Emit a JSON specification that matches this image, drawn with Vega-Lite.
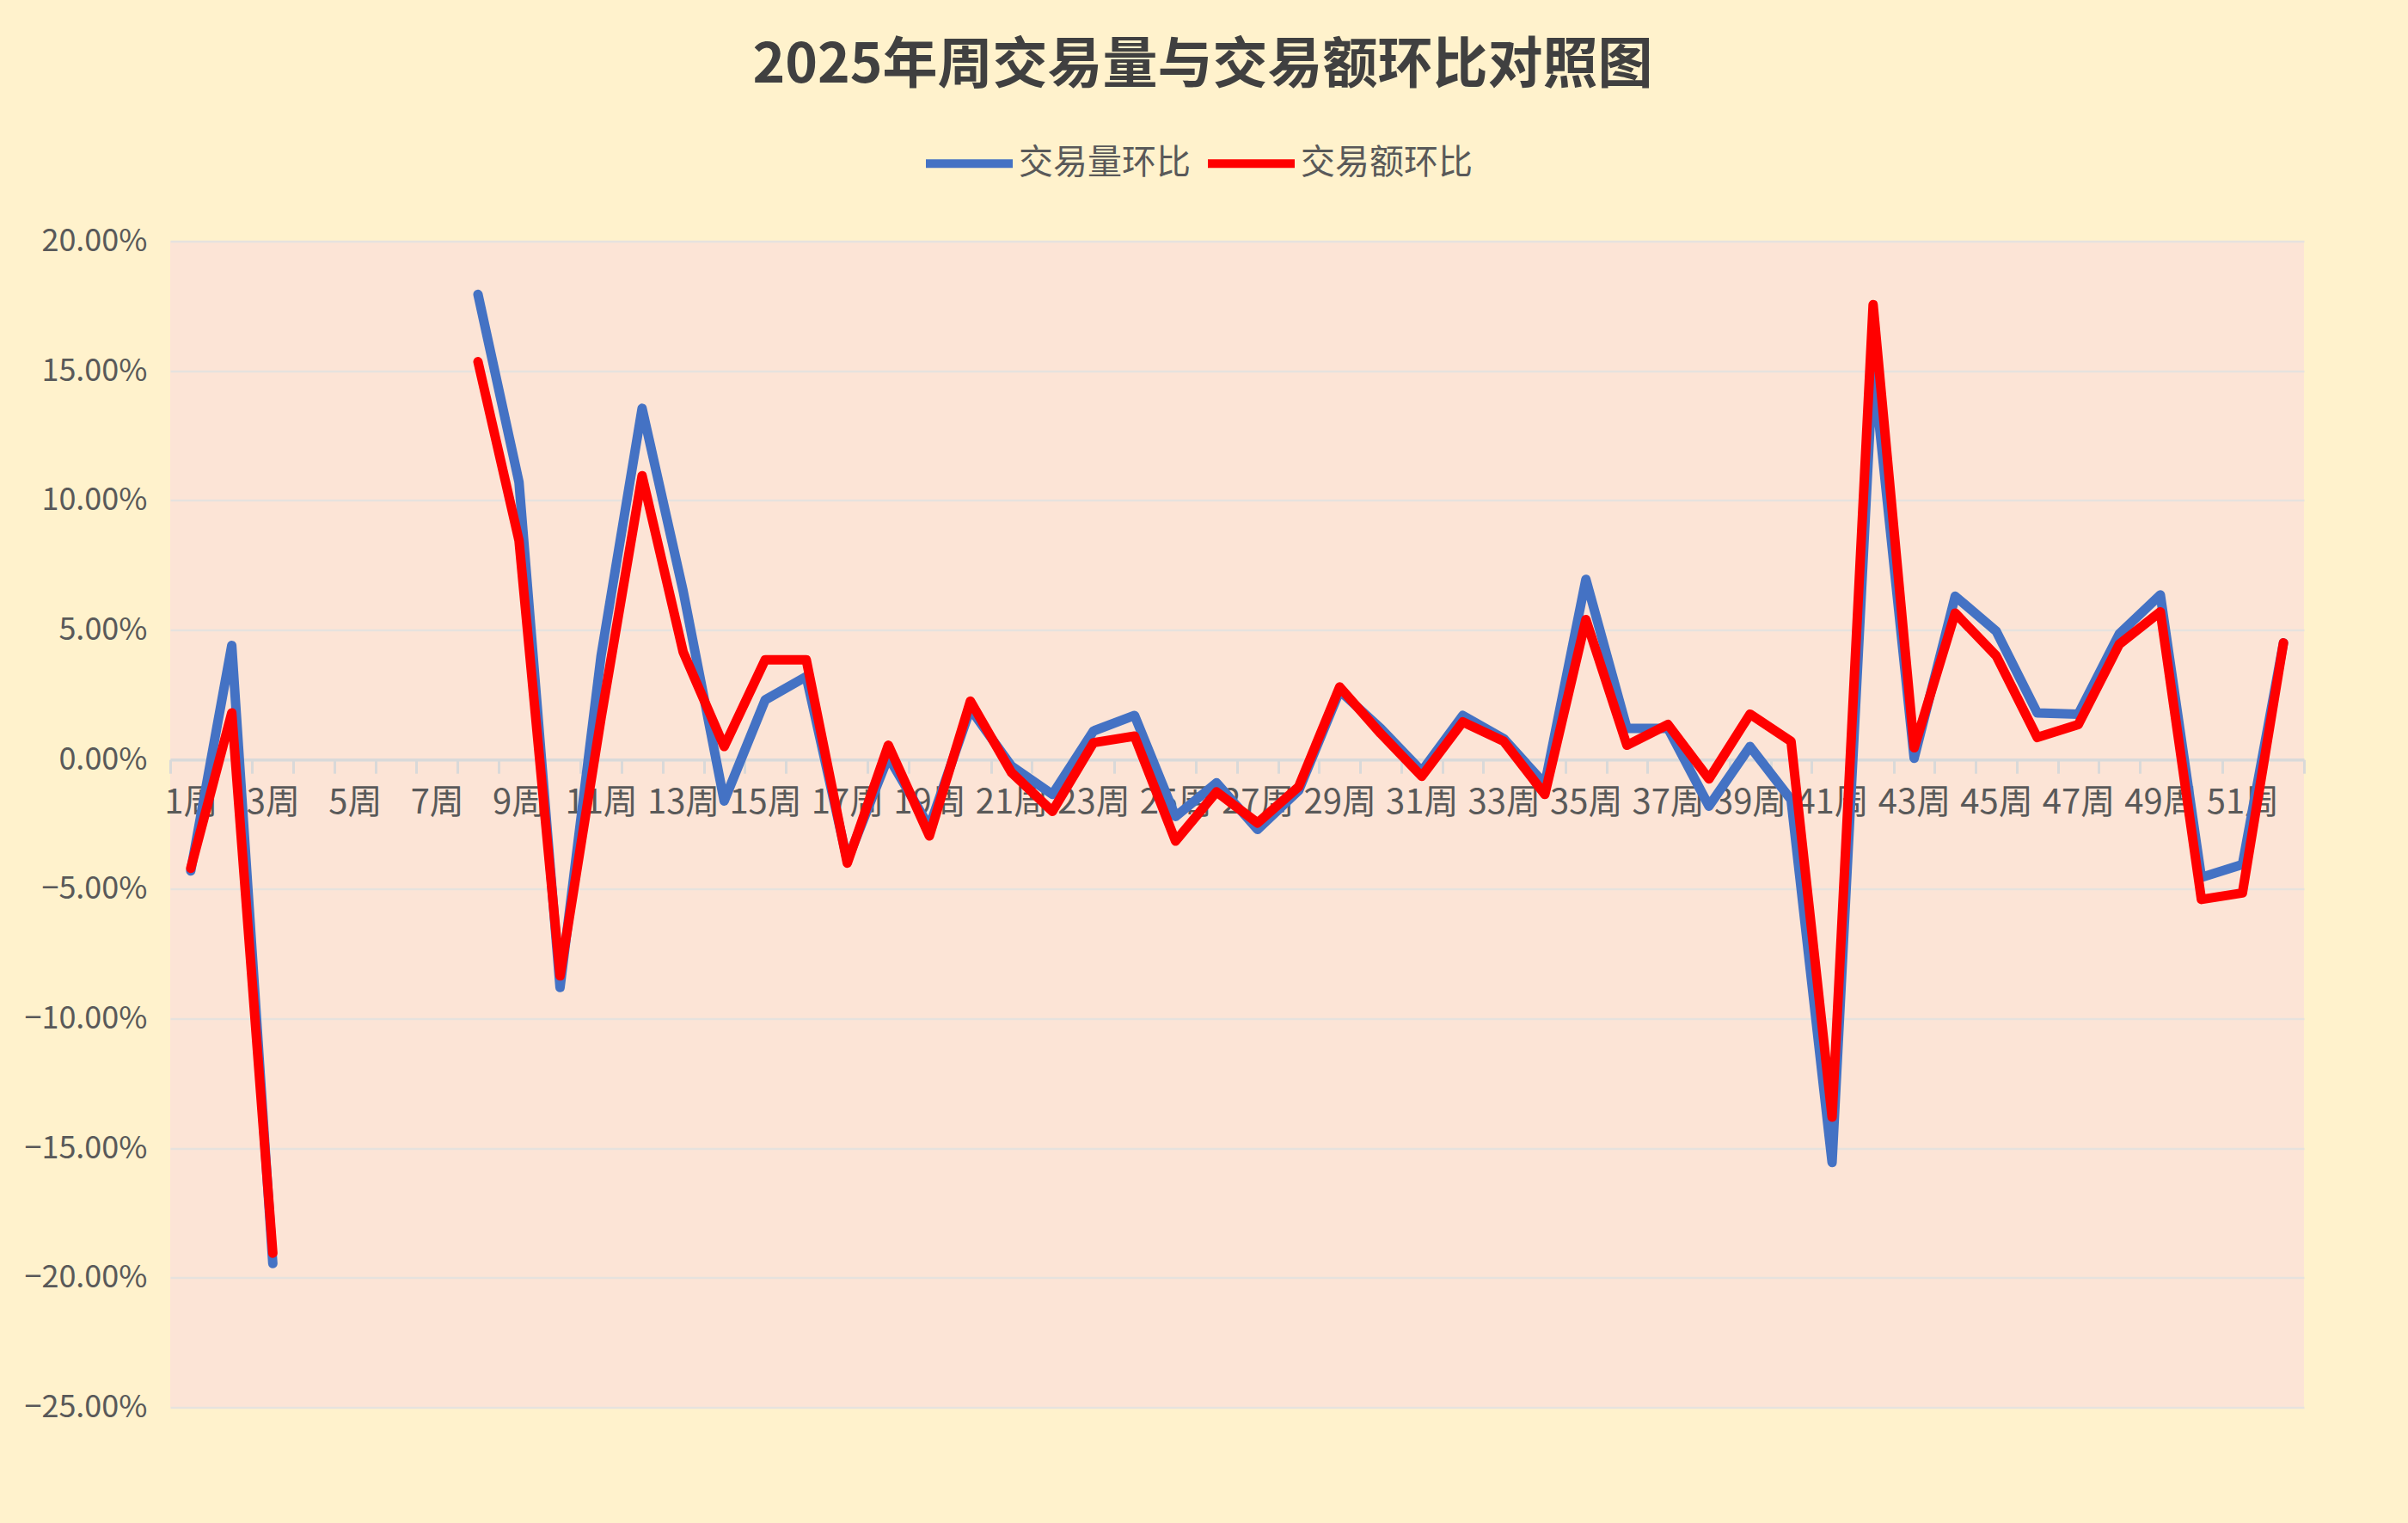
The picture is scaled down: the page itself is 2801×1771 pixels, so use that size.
{
  "$schema": "https://vega.github.io/schema/vega-lite/v6.json",
  "autosize": {"type": "none"},
  "width": 2482,
  "height": 1356,
  "padding": {"left": 198, "top": 280.5, "right": 121, "bottom": 134.5},
  "background": "#FFF2CC",
  "title": {
    "text": "2025年周交易量与交易额环比对照图",
    "font": "Noto Sans CJK SC",
    "fontSize": 64,
    "fontWeight": "bold",
    "color": "#404040",
    "anchor": "middle",
    "frame": "group",
    "dx": -40,
    "offset": 26
  },
  "data": {
    "values": [
      {"周次": 1, "系列": "交易量环比", "环比": -0.043},
      {"周次": 2, "系列": "交易量环比", "环比": 0.044},
      {"周次": 3, "系列": "交易量环比", "环比": -0.1945},
      {"周次": 4, "系列": "交易量环比", "环比": null},
      {"周次": 5, "系列": "交易量环比", "环比": null},
      {"周次": 6, "系列": "交易量环比", "环比": null},
      {"周次": 7, "系列": "交易量环比", "环比": null},
      {"周次": 8, "系列": "交易量环比", "环比": 0.1795},
      {"周次": 9, "系列": "交易量环比", "环比": 0.107},
      {"周次": 10, "系列": "交易量环比", "环比": -0.088},
      {"周次": 11, "系列": "交易量环比", "环比": 0.04},
      {"周次": 12, "系列": "交易量环比", "环比": 0.1355},
      {"周次": 13, "系列": "交易量环比", "环比": 0.065},
      {"周次": 14, "系列": "交易量环比", "环比": -0.016},
      {"周次": 15, "系列": "交易量环比", "环比": 0.023},
      {"周次": 16, "系列": "交易量环比", "环比": 0.032},
      {"周次": 17, "系列": "交易量环比", "环比": -0.039},
      {"周次": 18, "系列": "交易量环比", "环比": 0.001},
      {"周次": 19, "系列": "交易量环比", "环比": -0.026},
      {"周次": 20, "系列": "交易量环比", "环比": 0.0195},
      {"周次": 21, "系列": "交易量环比", "环比": -0.0025},
      {"周次": 22, "系列": "交易量环比", "环比": -0.0135},
      {"周次": 23, "系列": "交易量环比", "环比": 0.011},
      {"周次": 24, "系列": "交易量环比", "环比": 0.017},
      {"周次": 25, "系列": "交易量环比", "环比": -0.022},
      {"周次": 26, "系列": "交易量环比", "环比": -0.009},
      {"周次": 27, "系列": "交易量环比", "环比": -0.027},
      {"周次": 28, "系列": "交易量环比", "环比": -0.012},
      {"周次": 29, "系列": "交易量环比", "环比": 0.0265},
      {"周次": 30, "系列": "交易量环比", "环比": 0.012},
      {"周次": 31, "系列": "交易量环比", "环比": -0.0045},
      {"周次": 32, "系列": "交易量环比", "环比": 0.017},
      {"周次": 33, "系列": "交易量环比", "环比": 0.008},
      {"周次": 34, "系列": "交易量环比", "环比": -0.0095},
      {"周次": 35, "系列": "交易量环比", "环比": 0.0695},
      {"周次": 36, "系列": "交易量环比", "环比": 0.012},
      {"周次": 37, "系列": "交易量环比", "环比": 0.012},
      {"周次": 38, "系列": "交易量环比", "环比": -0.018},
      {"周次": 39, "系列": "交易量环比", "环比": 0.005},
      {"周次": 40, "系列": "交易量环比", "环比": -0.0155},
      {"周次": 41, "系列": "交易量环比", "环比": -0.1555},
      {"周次": 42, "系列": "交易量环比", "环比": 0.152},
      {"周次": 43, "系列": "交易量环比", "环比": 0.0005},
      {"周次": 44, "系列": "交易量环比", "环比": 0.063},
      {"周次": 45, "系列": "交易量环比", "环比": 0.0495},
      {"周次": 46, "系列": "交易量环比", "环比": 0.018},
      {"周次": 47, "系列": "交易量环比", "环比": 0.0175},
      {"周次": 48, "系列": "交易量环比", "环比": 0.0485},
      {"周次": 49, "系列": "交易量环比", "环比": 0.0635},
      {"周次": 50, "系列": "交易量环比", "环比": -0.0455},
      {"周次": 51, "系列": "交易量环比", "环比": -0.0405},
      {"周次": 52, "系列": "交易量环比", "环比": 0.045},
      {"周次": 1, "系列": "交易额环比", "环比": -0.042},
      {"周次": 2, "系列": "交易额环比", "环比": 0.018},
      {"周次": 3, "系列": "交易额环比", "环比": -0.1905},
      {"周次": 4, "系列": "交易额环比", "环比": null},
      {"周次": 5, "系列": "交易额环比", "环比": null},
      {"周次": 6, "系列": "交易额环比", "环比": null},
      {"周次": 7, "系列": "交易额环比", "环比": null},
      {"周次": 8, "系列": "交易额环比", "环比": 0.1535},
      {"周次": 9, "系列": "交易额环比", "环比": 0.0845},
      {"周次": 10, "系列": "交易额环比", "环比": -0.0835},
      {"周次": 11, "系列": "交易额环比", "环比": 0.016},
      {"周次": 12, "系列": "交易额环比", "环比": 0.1095},
      {"周次": 13, "系列": "交易额环比", "环比": 0.0415},
      {"周次": 14, "系列": "交易额环比", "环比": 0.005},
      {"周次": 15, "系列": "交易额环比", "环比": 0.0385},
      {"周次": 16, "系列": "交易额环比", "环比": 0.0385},
      {"周次": 17, "系列": "交易额环比", "环比": -0.04},
      {"周次": 18, "系列": "交易额环比", "环比": 0.0055},
      {"周次": 19, "系列": "交易额环比", "环比": -0.0295},
      {"周次": 20, "系列": "交易额环比", "环比": 0.0225},
      {"周次": 21, "系列": "交易额环比", "环比": -0.005},
      {"周次": 22, "系列": "交易额环比", "环比": -0.02},
      {"周次": 23, "系列": "交易额环比", "环比": 0.0065},
      {"周次": 24, "系列": "交易额环比", "环比": 0.009},
      {"周次": 25, "系列": "交易额环比", "环比": -0.0315},
      {"周次": 26, "系列": "交易额环比", "环比": -0.0125},
      {"周次": 27, "系列": "交易额环比", "环比": -0.0245},
      {"周次": 28, "系列": "交易额环比", "环比": -0.0105},
      {"周次": 29, "系列": "交易额环比", "环比": 0.028},
      {"周次": 30, "系列": "交易额环比", "环比": 0.01},
      {"周次": 31, "系列": "交易额环比", "环比": -0.0065},
      {"周次": 32, "系列": "交易额环比", "环比": 0.0145},
      {"周次": 33, "系列": "交易额环比", "环比": 0.007},
      {"周次": 34, "系列": "交易额环比", "环比": -0.0135},
      {"周次": 35, "系列": "交易额环比", "环比": 0.054},
      {"周次": 36, "系列": "交易额环比", "环比": 0.0055},
      {"周次": 37, "系列": "交易额环比", "环比": 0.0135},
      {"周次": 38, "系列": "交易额环比", "环比": -0.0075},
      {"周次": 39, "系列": "交易额环比", "环比": 0.0175},
      {"周次": 40, "系列": "交易额环比", "环比": 0.007},
      {"周次": 41, "系列": "交易额环比", "环比": -0.138},
      {"周次": 42, "系列": "交易额环比", "环比": 0.1755},
      {"周次": 43, "系列": "交易额环比", "环比": 0.0045},
      {"周次": 44, "系列": "交易额环比", "环比": 0.0565},
      {"周次": 45, "系列": "交易额环比", "环比": 0.04},
      {"周次": 46, "系列": "交易额环比", "环比": 0.0085},
      {"周次": 47, "系列": "交易额环比", "环比": 0.0135},
      {"周次": 48, "系列": "交易额环比", "环比": 0.0445},
      {"周次": 49, "系列": "交易额环比", "环比": 0.057},
      {"周次": 50, "系列": "交易额环比", "环比": -0.054},
      {"周次": 51, "系列": "交易额环比", "环比": -0.0515},
      {"周次": 52, "系列": "交易额环比", "环比": 0.045}
    ]
  },
  "layer": [
    {
      "mark": {"type": "rule", "opacity": 0},
      "encoding": {
        "x": {
          "field": "周次",
          "type": "quantitative",
          "scale": {"domain": [0.5, 52.5], "nice": false, "zero": false},
          "axis": {
            "orient": "bottom",
            "title": null,
            "values": [0.5,1.5,2.5,3.5,4.5,5.5,6.5,7.5,8.5,9.5,10.5,11.5,12.5,13.5,14.5,15.5,16.5,17.5,18.5,19.5,20.5,21.5,22.5,23.5,24.5,25.5,26.5,27.5,28.5,29.5,30.5,31.5,32.5,33.5,34.5,35.5,36.5,37.5,38.5,39.5,40.5,41.5,42.5,43.5,44.5,45.5,46.5,47.5,48.5,49.5,50.5,51.5,52.5],
            "labels": false,
            "grid": false,
            "domain": true,
            "domainColor": "#D9D9D9",
            "domainWidth": 3.5,
            "ticks": true,
            "tickColor": "#D9D9D9",
            "tickWidth": 3,
            "tickSize": 16,
            "offset": {"expr": "-height*25/45"}
          }
        }
      }
    },
    {
      "mark": {
        "type": "line",
        "strokeWidth": 11,
        "strokeCap": "round",
        "strokeJoin": "round",
        "invalid": "break-paths-show-domains"
      },
      "encoding": {
        "x": {
          "field": "周次",
          "type": "quantitative",
          "scale": {"domain": [0.5, 52.5], "nice": false, "zero": false},
          "axis": {
            "orient": "bottom",
            "title": null,
            "values": [1,3,5,7,9,11,13,15,17,19,21,23,25,27,29,31,33,35,37,39,41,43,45,47,49,51],
            "labelExpr": "datum.value + '周'",
            "labelFont": "Noto Sans CJK SC",
            "labelFontSize": 40,
            "labelColor": "#595959",
            "labelPadding": 30,
            "labelOverlap": false,
            "labelFlush": false,
            "grid": false,
            "domain": false,
            "ticks": false,
            "tickSize": 0,
            "offset": {"expr": "-height*25/45"}
          }
        },
        "y": {
          "field": "环比",
          "type": "quantitative",
          "scale": {"domain": [-0.25, 0.2], "nice": false, "zero": false},
          "axis": {
            "title": null,
            "values": [-0.25,-0.2,-0.15,-0.1,-0.05,0,0.05,0.1,0.15,0.2],
            "format": ".2%",
            "labelFont": "Noto Sans CJK SC",
            "labelFontSize": 36,
            "labelColor": "#595959",
            "labelPadding": 27,
            "domain": false,
            "ticks": false,
            "tickSize": 0,
            "grid": true,
            "gridColor": "#E6E2DE",
            "gridWidth": 2.5
          }
        },
        "color": {
          "field": "系列",
          "type": "nominal",
          "scale": {"domain": ["交易量环比", "交易额环比"], "range": ["#4472C4", "#FF0000"]},
          "legend": {
            "orient": "none",
            "legendX": 874,
            "legendY": -146,
            "direction": "horizontal",
            "title": null,
            "padding": 0,
            "symbolType": "stroke",
            "symbolSize": 10201,
            "symbolStrokeWidth": 10,
            "labelFont": "Noto Sans CJK SC",
            "labelFontSize": 40,
            "labelColor": "#595959",
            "labelLimit": 0,
            "labelOffset": 2,
            "columnPadding": 0
          }
        }
      }
    }
  ],
  "resolve": {"axis": {"x": "independent"}},
  "config": {
    "view": {"fill": "#FCE4D6", "stroke": null}
  }
}
